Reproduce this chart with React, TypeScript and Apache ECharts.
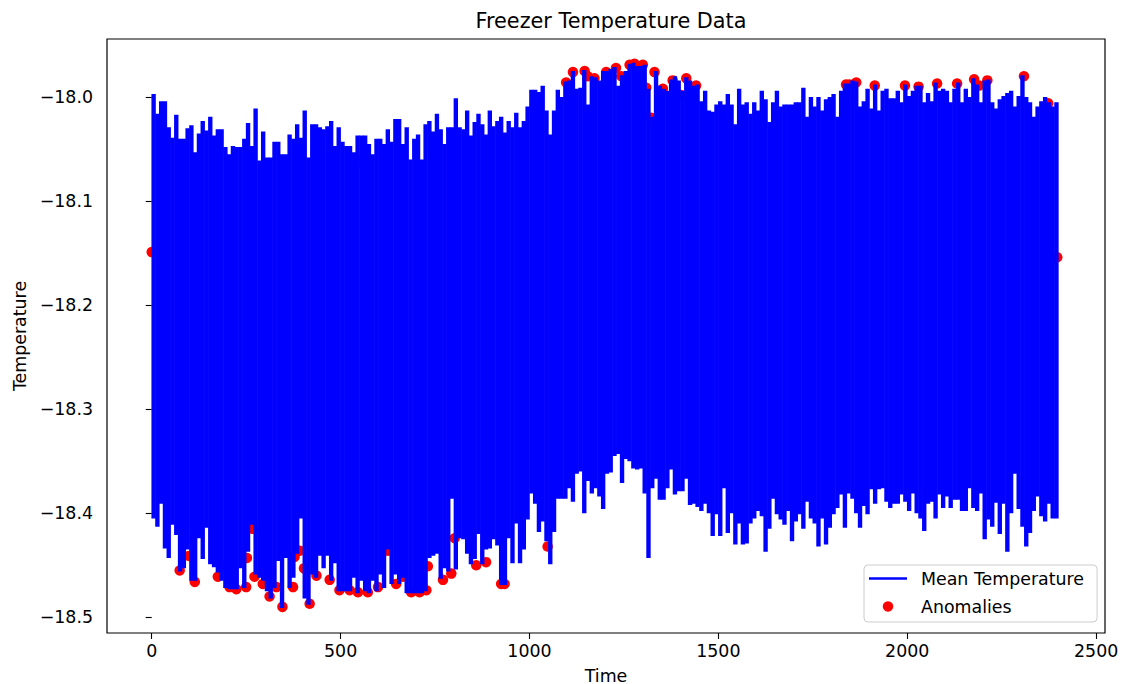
import React, { useEffect, useRef } from "react";
import * as echarts from "echarts";

// Each column spans STEP time units; UPPER/LOWER are the envelope of the dense mean-temperature trace.
const STEP = 10;

const UPPER = [
  -17.998, -18.017, -18.005, -18.005, -18.030, -18.040, -18.018, -18.041, -18.041, -18.031,
  -18.028, -18.054, -18.036, -18.024, -18.033, -18.020, -18.038, -18.032, -18.032, -18.049,
  -18.056, -18.048, -18.049, -18.049, -18.041, -18.026, -18.048, -18.012, -18.062, -18.034,
  -18.059, -18.059, -18.044, -18.044, -18.056, -18.056, -18.037, -18.041, -18.027, -18.040,
  -18.014, -18.059, -18.027, -18.027, -18.030, -18.032, -18.029, -18.024, -18.048, -18.030,
  -18.044, -18.048, -18.048, -18.054, -18.038, -18.038, -18.038, -18.046, -18.056, -18.041,
  -18.041, -18.046, -18.032, -18.044, -18.022, -18.022, -18.046, -18.030, -18.061, -18.041,
  -18.037, -18.061, -18.027, -18.024, -18.034, -18.017, -18.032, -18.046, -18.030, -18.030,
  -18.002, -18.030, -18.032, -18.014, -18.038, -18.025, -18.017, -18.027, -18.037, -18.014,
  -18.029, -18.024, -18.020, -18.035, -18.024, -18.030, -18.016, -18.030, -18.024, -18.010,
  -17.994, -17.994, -17.996, -17.990, -18.014, -18.037, -18.014, -17.994, -18.001, -17.986,
  -17.985, -17.976, -17.993, -17.992, -17.975, -18.008, -17.981, -17.982, -17.985, -17.976,
  -17.976, -17.974, -17.972, -17.990, -17.980, -17.976, -17.969, -17.968, -17.971, -17.971,
  -17.970, -17.993, -18.020, -17.976, -17.990, -17.993, -17.995, -17.984, -17.981, -17.985,
  -17.995, -17.982, -17.985, -17.990, -17.989, -18.005, -17.995, -18.014, -18.015, -18.008,
  -18.005, -18.008, -17.998, -18.008, -18.027, -17.993, -18.008, -18.006, -18.017, -18.006,
  -18.014, -17.995, -18.003, -18.025, -18.006, -17.995, -18.010, -18.008, -18.008, -18.008,
  -18.006, -18.006, -17.992, -18.020, -18.001, -18.010, -18.001, -18.014, -18.003, -18.001,
  -17.998, -18.020, -17.995, -17.988, -17.988, -17.985, -17.986, -18.010, -18.005, -17.993,
  -18.012, -17.989, -18.014, -17.995, -17.993, -18.002, -18.002, -17.995, -18.006, -17.989,
  -18.000, -17.995, -17.990, -17.990, -18.006, -17.997, -18.005, -17.987, -17.995, -17.993,
  -17.995, -18.006, -17.993, -17.987, -18.006, -17.993, -18.001, -17.983, -17.989, -18.006,
  -17.985, -17.984, -18.006, -18.012, -18.003, -18.000, -17.997, -17.995, -18.010, -18.000,
  -17.980, -18.001, -18.006, -18.020, -18.010, -18.005, -18.001, -18.006, -18.010, -18.006,
];

const LOWER = [
  -18.404, -18.412, -18.390, -18.433, -18.442, -18.410, -18.420, -18.455, -18.452, -18.434,
  -18.464, -18.464, -18.423, -18.443, -18.413, -18.448, -18.451, -18.456, -18.464, -18.471,
  -18.472, -18.472, -18.472, -18.452, -18.471, -18.436, -18.410, -18.458, -18.461, -18.464,
  -18.474, -18.481, -18.471, -18.445, -18.490, -18.442, -18.471, -18.461, -18.438, -18.404,
  -18.481, -18.487, -18.458, -18.461, -18.440, -18.452, -18.440, -18.464, -18.447, -18.474,
  -18.474, -18.474, -18.474, -18.461, -18.476, -18.464, -18.474, -18.476, -18.464, -18.474,
  -18.458, -18.471, -18.434, -18.467, -18.458, -18.467, -18.461, -18.476, -18.476, -18.476,
  -18.476, -18.476, -18.474, -18.442, -18.440, -18.438, -18.462, -18.452, -18.455, -18.385,
  -18.453, -18.423, -18.424, -18.438, -18.448, -18.443, -18.419, -18.448, -18.434, -18.433,
  -18.424, -18.430, -18.468, -18.468, -18.423, -18.447, -18.409, -18.447, -18.434, -18.405,
  -18.380, -18.390, -18.417, -18.407, -18.426, -18.448, -18.417, -18.385, -18.385, -18.385,
  -18.375, -18.388, -18.361, -18.359, -18.399, -18.368, -18.380, -18.375, -18.383, -18.395,
  -18.361, -18.360, -18.344, -18.342, -18.370, -18.347, -18.349, -18.356, -18.357, -18.356,
  -18.380, -18.442, -18.375, -18.366, -18.386, -18.386, -18.375, -18.357, -18.381, -18.378,
  -18.378, -18.366, -18.391, -18.390, -18.393, -18.397, -18.390, -18.399, -18.421, -18.400,
  -18.421, -18.375, -18.418, -18.399, -18.429, -18.409, -18.429, -18.428, -18.409, -18.404,
  -18.397, -18.402, -18.436, -18.414, -18.385, -18.400, -18.405, -18.410, -18.397, -18.426,
  -18.407, -18.400, -18.414, -18.388, -18.404, -18.409, -18.431, -18.404, -18.429, -18.413,
  -18.400, -18.394, -18.381, -18.413, -18.380, -18.385, -18.399, -18.413, -18.392, -18.400,
  -18.376, -18.390, -18.376, -18.375, -18.388, -18.394, -18.390, -18.390, -18.381, -18.388,
  -18.397, -18.380, -18.399, -18.404, -18.416, -18.390, -18.388, -18.404, -18.381, -18.394,
  -18.383, -18.394, -18.386, -18.386, -18.397, -18.397, -18.375, -18.394, -18.397, -18.380,
  -18.424, -18.405, -18.412, -18.389, -18.419, -18.390, -18.436, -18.399, -18.361, -18.395,
  -18.412, -18.431, -18.418, -18.397, -18.383, -18.402, -18.407, -18.390, -18.404, -18.404,
];

const ANOMALY_TIME = [
  0, 74, 99, 114, 175, 190, 206, 224, 250, 252, 268, 272, 294, 312, 330, 346, 374, 378, 392, 403,
  418, 436, 471, 497, 524, 546, 550, 572, 599, 625, 647, 665, 687, 709, 727, 731, 771, 793, 802, 859,
  885, 925, 934, 1048, 1097, 1115, 1146, 1154, 1172, 1203, 1229, 1243, 1265, 1278, 1300, 1309, 1322, 1331, 1353, 1379,
  1401, 1415, 1441, 1838, 1847, 1865, 1914, 1994, 2030, 2079, 2132, 2177, 2190, 2212, 2309, 2373, 2397,
];
const ANOMALY_TEMP = [
  -18.149, -18.455, -18.441, -18.466, -18.461, -18.450, -18.471, -18.473, -18.471, -18.443, -18.415, -18.461, -18.468, -18.480, -18.471, -18.490, -18.471, -18.442, -18.436, -18.453,
  -18.487, -18.460, -18.464, -18.474, -18.474, -18.476, -18.062, -18.476, -18.471, -18.436, -18.468, -18.461, -18.476, -18.476, -18.474, -18.451, -18.464, -18.458, -18.424, -18.450,
  -18.447, -18.468, -18.468, -18.432, -17.986, -17.976, -17.975, -17.980, -17.982, -17.976, -17.972, -17.980, -17.969, -17.968, -17.969, -17.991, -18.020, -17.976, -17.992, -17.984,
  -17.998, -17.982, -17.989, -17.988, -17.988, -17.986, -17.989, -17.989, -17.990, -17.987, -17.987, -17.983, -17.989, -17.984, -17.980, -18.006, -18.154,
];

const X_TICKS = [0, 500, 1000, 1500, 2000, 2500];
const Y_TICKS = [-18.5, -18.4, -18.3, -18.2, -18.1, -18.0];

const FONT = "DejaVu Sans";
const FS = 17.4;

export default function App() {
  const ref = useRef<HTMLDivElement>(null);

  useEffect(() => {
    if (!ref.current) return;
    const chart = echarts.init(ref.current, null, { renderer: "svg" });
    const band = UPPER.map((u, i) => [i * STEP, LOWER[i], u]);
    const anomalies = ANOMALY_TIME.map((t, i) => [t, ANOMALY_TEMP[i]]);

    chart.setOption({
      animation: false,
      backgroundColor: "#ffffff",
      textStyle: { fontFamily: FONT },
      title: {
        text: "Freezer Temperature Data",
        left: 606,
        top: 5,
        textAlign: "center",
        textStyle: { fontFamily: FONT, fontSize: 20.8, fontWeight: "normal", color: "#000" },
      },
      grid: {
        left: 107,
        right: 25,
        top: 39,
        bottom: 51,
        show: true,
        borderColor: "#000",
        borderWidth: 1.2,
        backgroundColor: "transparent",
        containLabel: false,
        outerBoundsMode: "none",
      },
      xAxis: {
        type: "value",
        min: -118.4,
        max: 2523.5,
        name: "Time",
        nameLocation: "middle",
        nameGap: 34,
        nameTextStyle: { fontFamily: FONT, fontSize: FS, color: "#000" },
        axisLine: { show: false },
        splitLine: { show: false },
        axisTick: { show: true, length: 6, lineStyle: { color: "#000", width: 1.1 }, customValues: X_TICKS },
        axisLabel: {
          customValues: X_TICKS,
          fontFamily: FONT,
          fontSize: FS,
          color: "#000",
          margin: 9,
          formatter: (v: number) => String(v),
        },
      },
      yAxis: {
        type: "value",
        min: -18.5151,
        max: -17.9442,
        name: "Temperature",
        nameLocation: "middle",
        nameRotate: 90,
        nameGap: 79,
        nameTextStyle: { fontFamily: FONT, fontSize: FS, color: "#000" },
        axisLine: { show: false },
        splitLine: { show: false },
        axisTick: { show: true, length: 6, lineStyle: { color: "#000", width: 1.1 }, customValues: Y_TICKS },
        axisLabel: {
          customValues: Y_TICKS,
          fontFamily: FONT,
          fontSize: FS,
          color: "#000",
          margin: 14,
          formatter: (v: number) => v.toFixed(1).replace("-", "\u2212"),
        },
      },
      legend: {
        orient: "vertical",
        left: 864,
        top: 565,
        data: [
          { name: "Mean Temperature", icon: "path://M0,0L38,0L38,2.6L0,2.6Z" },
          { name: "Anomalies", icon: "circle" },
        ],
        itemWidth: 38,
        itemHeight: 10.5,
        itemGap: 11,
        padding: [5, 13, 7, 5],
        backgroundColor: "rgba(255,255,255,0.8)",
        borderColor: "#cccccc",
        borderWidth: 1,
        borderRadius: 4,
        selectedMode: false,
        textStyle: { fontFamily: FONT, fontSize: FS, color: "#000", padding: [0, 0, 0, 9] },
      },
      series: [
        {
          type: "scatter",
          name: "Anomalies",
          data: anomalies,
          symbol: "circle",
          symbolSize: 10.5,
          itemStyle: { color: "#ff0000", opacity: 1 },
          z: 1,
        },
        {
          type: "custom",
          name: "Mean Temperature",
          data: band,
          z: 2,
          itemStyle: { color: "#0000ff" },
          encode: { x: 0, y: [1, 2] },
          renderItem: (_params: any, api: any) => {
            const t = api.value(0) as number;
            const lo = api.value(1) as number;
            const hi = api.value(2) as number;
            const a = api.coord([t, hi]);
            const b = api.coord([t + STEP, lo]);
            return {
              type: "rect",
              shape: { x: a[0] - 0.3, y: a[1] - 1, width: b[0] - a[0] + 0.6, height: b[1] - a[1] + 2 },
              style: { fill: "#0000ff" },
            };
          },
        },
      ],
    });

    return () => chart.dispose();
  }, []);

  return <div ref={ref} style={{ position: "fixed", left: 0, top: 0, width: 1130, height: 684 }} />;
}
